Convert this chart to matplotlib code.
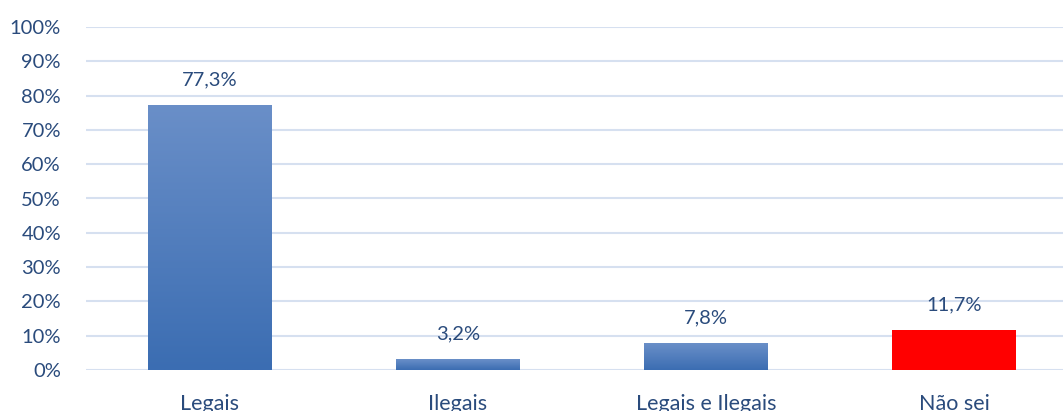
import numpy as np
import matplotlib.pyplot as plt
from matplotlib.colors import LinearSegmentedColormap
from matplotlib.patches import Rectangle

plt.rcParams['font.family'] = ['Lato', 'DejaVu Sans']

categories = ['Legais', 'Ilegais', 'Legais e Ilegais', 'Não sei']
values = [77.3, 3.2, 7.8, 11.7]
value_labels = ['77,3%', '3,2%', '7,8%', '11,7%']
yticks = [0, 10, 20, 30, 40, 50, 60, 70, 80, 90, 100]

text_color = '#2A4B7C'
grid_color = '#D6E0F0'
blue_grad = LinearSegmentedColormap.from_list('bg', ['#3B6DB2', '#6A8FC8'])

fig = plt.figure(figsize=(10.63, 4.11), dpi=100)
left = 86 / 1063
ax = fig.add_axes([left, 41 / 411, (1078 - 86) / 1063, 343 / 411])

x = np.arange(len(categories))
width = 0.5
bars = ax.bar(x, values, width=width, color=['none', 'none', 'none', '#FF0000'], zorder=3)

# gradient fill for the blue bars
grad = np.linspace(0, 1, 256).reshape(-1, 1)
for i, b in enumerate(bars[:3]):
    x0, y0 = b.get_x(), b.get_y()
    w, h = b.get_width(), b.get_height()
    im = ax.imshow(grad, cmap=blue_grad, origin='lower', aspect='auto',
                   extent=[x0, x0 + w, y0, y0 + h], zorder=3)
    clip = Rectangle((x0, y0), w, h, transform=ax.transData)
    im.set_clip_path(clip)

for xi, v, lab in zip(x, values, value_labels):
    ax.annotate(lab, (xi, v), xytext=(0, 18), textcoords='offset points',
                ha='center', va='center', fontsize=14.5, color=text_color)

ax.set_xlim(-0.5, 3.5)
ax.set_ylim(0, 100)
ax.set_yticks(yticks)
ax.set_yticklabels(['{}%'.format(t) for t in yticks])
ax.set_xticks(x)
ax.set_xticklabels(categories)
ax.tick_params(axis='y', length=0, pad=18, labelsize=14.5, labelcolor=text_color)
ax.tick_params(axis='x', length=0, pad=17, labelsize=15.5, labelcolor=text_color)
ax.grid(axis='y', color=grid_color, linewidth=1.5, zorder=0)
ax.set_axisbelow(True)
for s in ax.spines.values():
    s.set_visible(False)

plt.savefig('out.png', dpi=100)
